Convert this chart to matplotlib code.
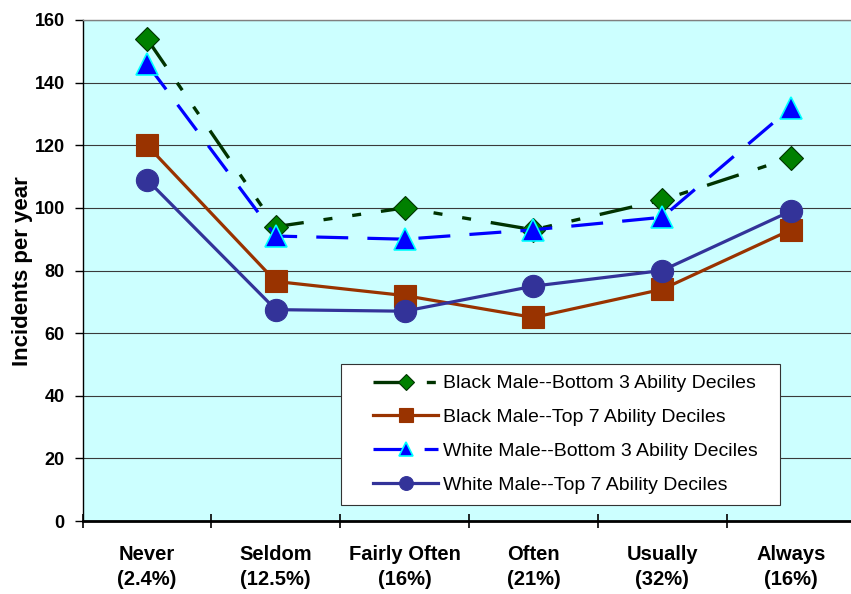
import matplotlib
matplotlib.use("Agg")
import matplotlib.pyplot as plt
from matplotlib.ticker import FixedLocator, NullFormatter
from matplotlib.legend_handler import HandlerLine2D
from matplotlib.lines import Line2D

plt.rcParams['font.family'] = ['Liberation Sans', 'DejaVu Sans']

categories = ["Never\n(2.4%)", "Seldom\n(12.5%)", "Fairly Often\n(16%)",
              "Often\n(21%)", "Usually\n(32%)", "Always\n(16%)"]

black_bottom3 = [154, 94, 100, 93, 102.5, 116]
black_top7 = [120, 76.5, 72, 65, 74, 93]
white_bottom3 = [146, 91, 90, 93, 97, 132]
white_top7 = [109, 67.5, 67, 75, 80, 99]

series_labels = ["Black Male--Bottom 3 Ability Deciles",
                 "Black Male--Top 7 Ability Deciles",
                 "White Male--Bottom 3 Ability Deciles",
                 "White Male--Top 7 Ability Deciles"]

yticks = [0, 20, 40, 60, 80, 100, 120, 140, 160]

W, H = 851, 594
fig = plt.figure(figsize=(W / 100, H / 100), dpi=100)
fig.patch.set_facecolor("white")

# plot area in pixels: left 82.6, right 855.4 (runs past the edge), top 20, bottom 521
x0, x1, ytop, ybot = 82.6, 855.4, 20, 521
ax = fig.add_axes([x0 / W, 1 - ybot / H, (x1 - x0) / W, (ybot - ytop) / H])
ax.set_facecolor("#CCFFFF")

x = list(range(len(categories)))

ax.plot(x, black_bottom3, color="#003300", lw=2.4,
        dashes=(10, 6, 2.7, 6, 2.7, 6),
        marker="D", ms=12.5, mfc="#008000", mec="#003300", mew=0.8,
        label=series_labels[0], zorder=3)
ax.plot(x, black_top7, color="#993300", lw=2.3,
        marker="s", ms=16, mfc="#993300", mec="#993300", mew=0.8,
        label=series_labels[1], zorder=4)
ax.plot(x, white_bottom3, color="#0000FF", lw=2.3,
        dashes=(10, 6),
        marker="^", ms=16, mfc="#0000FF", mec="#00FFFF", mew=1.2,
        label=series_labels[2], zorder=5)
ax.plot(x, white_top7, color="#333399", lw=2.3,
        marker="o", ms=16, mfc="#333399", mec="#333399", mew=0.8,
        label=series_labels[3], zorder=6)

ax.set_xlim(-0.5, len(categories) - 0.5)
ax.set_ylim(0, 160)

# y axis
ax.set_yticks(yticks)
ax.set_yticklabels([str(v) for v in yticks], fontsize=13, fontweight="bold")
ax.tick_params(axis="y", direction="out", length=5.8, width=1, pad=7, colors="black")
ax.grid(axis="y", color="#3a3a3a", lw=0.8, zorder=1)
ax.set_axisbelow(True)

# x axis: labels at category centres, tick marks between categories
ax.set_xticks(x)
ax.set_xticklabels(categories, fontsize=14.5, fontweight="bold", linespacing=1.4)
ax.tick_params(axis="x", which="major", length=0, pad=17)
ax.xaxis.set_minor_locator(FixedLocator([i - 0.5 for i in range(len(categories) + 1)]))
ax.xaxis.set_minor_formatter(NullFormatter())
ax.tick_params(axis="x", which="minor", direction="inout", length=9.5, width=1.2, colors="black")

for side in ("top", "right"):
    ax.spines[side].set_color("#808080")
    ax.spines[side].set_linewidth(1.0)
ax.spines["left"].set_color("black")
ax.spines["left"].set_linewidth(1.0)
ax.spines["bottom"].set_color("black")
ax.spines["bottom"].set_linewidth(2.0)
ax.spines["bottom"].set_zorder(7)

fig.text(22.5 / W, 1 - 271 / H, "Incidents per year", rotation=90,
         ha="center", va="center", fontsize=16, fontweight="bold")

# legend box spans x 341-780, y 363-505 (pixels)
leg_fs = 14
fs_px = leg_fs * 100 / 72
bpad = 0.58
handle_start = 341 + bpad * fs_px
handler = HandlerLine2D(xpad=(373 - handle_start) / fs_px)
leg = ax.legend(loc="lower left",
                bbox_to_anchor=(341 / W, 1 - 505 / H, (780 - 341) / W, (505 - 363) / H),
                bbox_transform=fig.transFigure, mode="expand",
                handler_map={Line2D: handler},
                fontsize=leg_fs, frameon=True, fancybox=False, framealpha=1,
                edgecolor="#333333", facecolor="white",
                handlelength=(438 - handle_start) / fs_px, handletextpad=5 / fs_px,
                borderpad=bpad, labelspacing=0.83, borderaxespad=0,
                markerscale=0.62)
leg.get_frame().set_linewidth(0.8)
leg.set_zorder(10)

fig.savefig("out.png", dpi=100, facecolor="white")
